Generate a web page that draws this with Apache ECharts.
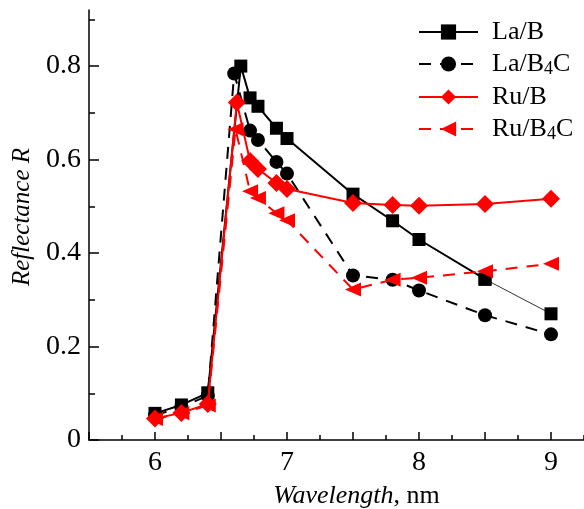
<!DOCTYPE html>
<html><head><meta charset="utf-8">
<script src="https://cdn.jsdelivr.net/npm/echarts@6/dist/echarts.min.js"></script>
<style>html,body{margin:0;padding:0;background:#fff}#c{width:584px;height:509px}</style>
</head><body><div id="c"></div>
<script>
// Data (wavelength in nm, reflectance R)
const laB_x    = [6.0, 6.2, 6.4, 6.65, 6.72, 6.78, 6.92, 7.0, 7.5, 7.8, 8.0, 8.5, 9.0];
const laB_y    = [0.057, 0.075, 0.101, 0.800, 0.732, 0.714, 0.667, 0.645, 0.526, 0.469, 0.429, 0.344, 0.270];
const laB4C_x  = [6.0, 6.2, 6.4, 6.6, 6.72, 6.78, 6.92, 7.0, 7.5, 7.8, 8.0, 8.5, 9.0];
const laB4C_y  = [0.053, 0.070, 0.095, 0.784, 0.662, 0.642, 0.595, 0.570, 0.352, 0.343, 0.320, 0.267, 0.226];
const ruB_x    = [6.0, 6.2, 6.4, 6.62, 6.72, 6.78, 6.92, 7.0, 7.5, 7.8, 8.0, 8.5, 9.0];
const ruB_y    = [0.046, 0.058, 0.077, 0.722, 0.597, 0.580, 0.550, 0.537, 0.507, 0.503, 0.501, 0.505, 0.516];
const ruB4C_x  = [6.0, 6.2, 6.4, 6.61, 6.72, 6.78, 6.92, 7.0, 7.5, 7.8, 8.0, 8.5, 9.0];
const ruB4C_y  = [0.045, 0.057, 0.074, 0.665, 0.532, 0.518, 0.485, 0.470, 0.322, 0.343, 0.347, 0.361, 0.377];
const seriesNames = ['La/B', 'La/B4C', 'Ru/B', 'Ru/B4C'];
const xMajorTicks = [5.5, 6, 6.5, 7, 7.5, 8, 8.5, 9];
const xMinorTicks = [5.75, 6.25, 6.75, 7.25, 7.75, 8.25, 8.75, 9.25];
const xLabels = [6, 7, 8, 9];
const yMajorTicks = [0, 0.2, 0.4, 0.6, 0.8];
const yMinorTicks = [0.1, 0.3, 0.5, 0.7, 0.9];
const yLabels = [0, 0.2, 0.4, 0.6, 0.8];

const pairs = (xs, ys) => xs.map((x, i) => [x, ys[i]]);
const FF = 'Liberation Serif';
const RED = '#ff0000';
const BLK = '#000000';
const laB = pairs(laB_x, laB_y);

const chart = echarts.init(document.getElementById('c'), null, {renderer: 'canvas'});
const axisLineStyle = {color: '#000', width: 1.5};
const option = {
  animation: false,
  backgroundColor: '#fff',
  grid: {left: 89, right: 0, top: 10, bottom: 69, containLabel: false, outerBoundsMode: 'none'},
  legend: {
    data: seriesNames,
    orient: 'vertical',
    left: 413, top: 14, padding: 5,
    itemWidth: 59, itemHeight: 19, itemGap: 6,
    textStyle: {fontFamily: FF, fontSize: 26, color: '#000', lineHeight: 26, padding: [0, 0, 0, 9],
      rich: {sub: {fontFamily: FF, fontSize: 18, color: '#000', padding: [10, 0, 0, 0]}}},
    formatter: n => n.replace('B4C', 'B{sub|4}C'),
    itemStyle: {borderWidth: 0}
  },
  xAxis: [{
    type: 'value', min: 5.5, max: 9.25, position: 'bottom',
    axisLine: {show: true, onZero: false, lineStyle: axisLineStyle},
    axisTick: {show: true, inside: true, length: 8, customValues: xMajorTicks, lineStyle: axisLineStyle},
    axisLabel: {customValues: xLabels, fontFamily: FF, fontSize: 28, color: '#000', margin: 9,
      formatter: v => String(v)},
    splitLine: {show: false},
    name: '{i|Wavelength}, nm', nameLocation: 'middle', nameGap: 43,
    nameTextStyle: {fontFamily: FF, fontSize: 26, color: '#000', padding: [0, 0, 0, 40],
      rich: {i: {fontFamily: FF, fontSize: 26, fontStyle: 'italic', color: '#000'}}}
  }, {
    type: 'value', min: 5.5, max: 9.25, position: 'bottom',
    axisLine: {show: false},
    axisTick: {show: true, inside: true, length: 5, customValues: xMinorTicks, lineStyle: axisLineStyle},
    axisLabel: {show: false}, splitLine: {show: false}
  }],
  yAxis: [{
    type: 'value', min: 0, max: 0.92, position: 'left',
    axisLine: {show: true, onZero: false, lineStyle: axisLineStyle},
    axisTick: {show: true, inside: true, length: 10, customValues: yMajorTicks, lineStyle: axisLineStyle},
    axisLabel: {customValues: yLabels, fontFamily: FF, fontSize: 28, color: '#000', margin: 8,
      formatter: v => (v === 0 ? '0' : v.toFixed(1))},
    splitLine: {show: false},
    name: 'Reflectance R', nameLocation: 'middle', nameGap: 51, nameRotate: 90,
    nameTextStyle: {fontFamily: FF, fontSize: 25, fontStyle: 'italic', color: '#000', padding: [0, 0, 0, 16]}
  }, {
    type: 'value', min: 0, max: 0.92, position: 'left', offset: 0,
    axisLine: {show: false},
    axisTick: {show: true, inside: true, length: 6, customValues: yMinorTicks, lineStyle: axisLineStyle},
    axisLabel: {show: false}, splitLine: {show: false}
  }],
  series: [
    {
      name: 'La/B4C', type: 'line', data: pairs(laB4C_x, laB4C_y), z: 2,
      symbol: 'circle', symbolSize: 14, color: BLK,
      itemStyle: {color: BLK}, lineStyle: {color: BLK, width: 2, type: [12, 9]}
    },
    {
      name: 'La/B', type: 'line', data: laB.slice(0, 12), z: 3,
      symbol: 'rect', symbolSize: 13, color: BLK,
      itemStyle: {color: BLK}, lineStyle: {color: BLK, width: 2, type: 'solid'}
    },
    {
      name: 'La/B', type: 'line', data: laB.slice(11), z: 3,
      symbol: 'rect', symbolSize: 13, color: BLK,
      itemStyle: {color: BLK}, lineStyle: {color: '#333', width: 1, type: 'solid'}
    },
    {
      name: 'Ru/B4C', type: 'line', data: pairs(ruB4C_x, ruB4C_y), z: 4,
      symbol: 'triangle', symbolSize: [14, 16], symbolRotate: 90, color: RED,
      itemStyle: {color: RED}, lineStyle: {color: RED, width: 2, type: [12, 9]}
    },
    {
      name: 'Ru/B', type: 'line', data: pairs(ruB_x, ruB_y), z: 5,
      symbol: 'diamond', symbolSize: 18, color: RED,
      itemStyle: {color: RED}, lineStyle: {color: RED, width: 2, type: 'solid'}
    }
  ]
};
chart.setOption(option);
</script>
</body></html>
